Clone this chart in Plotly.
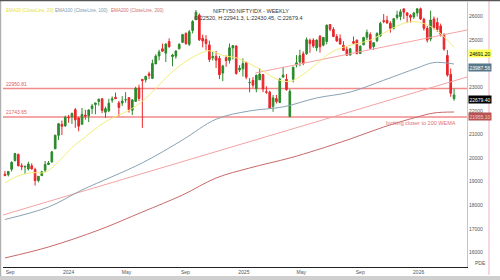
import plotly.graph_objects as go
import pandas as pd

# ---------------- data (weekly candles) ----------------
week_start = "2023-08-21"
opens = [19320, 19298, 19525, 19890, 20156, 19678, 19622, 19539, 19674, 19521, 19053, 19257, 19487, 19731, 19844, 20393, 20965, 21434, 21365,
         21727, 21747, 22053, 21700, 21433, 21825, 21800, 22102, 22269, 22403, 22517, 21946, 22006, 22456, 22579, 22339, 22336, 22475, 22562, 22027, 22404, 22970,
         23338, 23319, 23571, 23382, 23992, 24329, 24635, 24445, 24943, 24302, 24320, 24636, 24906, 25284, 24823, 25406, 25872, 26061, 25084, 25024, 24798, 24251,
         24315, 24225, 23605, 24254, 24140, 24671, 24753, 23738, 23783,
         24045, 23195, 23290, 22940, 23319, 23543, 22810, 22796, 22194, 22522, 22354, 23433, 23342, 21758, 23341, 23949, 24070, 24420, 24420, 24992, 25001,
         24669, 25160, 24787, 24939, 25661, 25450, 25149, 25061, 24782, 24596, 24371, 24938, 25000, 24432, 24802, 25118, 25239, 24729, 24979, 25177, 25824,
         25843, 25715, 25503, 25960, 26000, 26326, 26159, 26050, 25980, 26150,
         26330, 25880, 25500, 25050, 25900, 25750, 25600, 25200, 24350, 23550, 22520]
highs = [19458, 19457, 19868, 20222, 20195, 19782, 19661, 19849, 19781, 19593, 19233, 19463, 19875, 19875, 20291, 20990, 21492, 21593, 21801,
         21834, 21928, 22124, 21750, 22126, 22053, 22069, 22297, 22353, 22526, 22527, 22180, 22516, 22619, 22776, 22427, 22626, 22794, 22588, 22502, 23027, 23111,
         23338, 23490, 23667, 24174, 24401, 24592, 24854, 24861, 25078, 24419, 24563, 24867, 25268, 25333, 25433, 25849, 26277, 26134, 25234, 25212, 24978, 24498,
         24537, 24336, 23956, 24354, 24857, 24792, 24781, 23938, 24226,
         24089, 23391, 23426, 23546, 23807, 23568, 23050, 22857, 22677, 22677, 23402, 23869, 23565, 22924, 23872, 24365, 24590, 24526, 25116, 25071, 25079,
         25030, 25222, 25137, 25654, 25669, 25548, 25256, 25241, 24957, 24734, 24674, 25154, 25022, 24780, 25139, 25449, 25331, 24904, 25330, 25781, 26104,
         26032, 25800, 25940, 26246, 26310, 26326, 26159, 26100, 26200, 26340,
         26380, 25950, 25600, 26250, 26000, 25950, 25700, 25300, 24580, 23800, 22941.3]
lows = [19229, 19224, 19432, 19866, 19657, 19492, 19333, 19480, 19518, 18837, 18973, 19257, 19414, 19705, 19801, 20393, 20769, 20976, 21330,
        21500, 21448, 21285, 21137, 21430, 21629, 21530, 21875, 21860, 22224, 21905, 21710, 21947, 22346, 22503, 21777, 22213, 22348, 21932, 21822, 22404, 22418,
        21282, 23206, 23350, 23350, 23992, 24141, 24509, 24074, 24686, 23893, 24212, 24607, 24874, 24801, 24753, 25285, 25847, 24966, 24694, 24567, 24073, 24140,
        23816, 23350, 23263, 23873, 24008, 24180, 23537, 23647, 23460,
        23344, 22786, 22981, 22787, 23316, 22798, 22725, 22104, 21964, 22315, 22353, 23412, 22857, 21743.65, 23207, 23847, 23896, 23936, 24378, 24463, 24674,
        24533, 24474, 24738, 24825, 25379, 25130, 24919, 24806, 24536, 24337, 24346, 24852, 24404, 24432, 24781, 25000, 24629, 24587, 24912, 25152, 25718,
        25711, 25318, 25449, 25876, 25842, 25891, 25728, 25750, 25900, 26000,
        25850, 25400, 24900, 24950, 25450, 25350, 25150, 24550, 23450, 22600, 22430.45]
closes = [19266, 19435, 19820, 20192, 19674, 19638, 19654, 19751, 19542, 19047, 19231, 19425, 19732, 19795, 20268, 20970, 21457, 21349, 21731,
          21711, 21895, 21622, 21353, 21854, 21783, 22041, 22213, 22339, 22494, 22023, 22097, 22327, 22514, 22519, 22147, 22420, 22476, 22055, 22467, 22957, 22531,
          23290, 23466, 23501, 24011, 24324, 24502, 24531, 24835, 24718, 24368, 24541, 24823, 25236, 24852, 25357, 25791, 26179, 25015, 24964, 24854, 24181, 24305,
          24148, 23533, 23907, 24131, 24678, 24768, 23588, 23813, 24005,
          23432, 23203, 23092, 23508, 23560, 22929, 22796, 22125, 22553, 22397, 23350, 23519, 22904, 22829, 23852, 24039, 24347, 24008, 25020, 24853, 24751,
          25003, 24719, 25112, 25637, 25461, 25150, 24968, 24837, 24565, 24363, 24631, 24870, 24427, 24741, 25114, 25327, 24655, 24894, 25285, 25710, 25795,
          25722, 25492, 25910, 26068, 26203, 26186, 26047, 25966, 26150, 26328,
          25900, 25500, 25000, 25850, 25520, 25450, 25250, 24620, 23520, 22750, 22679.4]

ema20_dates = ["2023-08-21", "2023-09-18", "2023-10-16", "2023-11-13", "2023-12-11", "2024-01-08", "2024-02-05", "2024-03-04",
               "2024-04-01", "2024-04-29", "2024-05-27", "2024-06-24", "2024-07-22", "2024-08-19", "2024-09-23", "2024-10-21",
               "2024-11-18", "2024-12-16", "2025-01-13", "2025-02-10", "2025-03-10", "2025-04-07", "2025-05-05", "2025-06-02",
               "2025-06-30", "2025-07-28", "2025-08-25", "2025-09-22", "2025-10-20", "2025-11-17", "2025-12-15", "2026-01-12",
               "2026-02-09", "2026-03-02", "2026-03-16"]
ema20 = [18950, 19250, 19380, 19400, 19850, 20450, 20900, 21350, 21700, 21950, 22300, 22800, 23400, 23900, 24350, 24550,
         24350, 24250, 24000, 23700, 23350, 23250, 23550, 24000, 24450, 24700, 24850, 25000, 25300, 25600, 25780, 25700,
         25400, 25000, 24691.2]

ema100_dates = ["2023-08-21", "2023-11-20", "2024-01-29", "2024-06-03", "2024-08-26", "2024-11-04", "2025-01-13", "2025-03-24",
                "2025-06-02", "2025-08-11", "2025-10-20", "2025-12-29", "2026-02-02", "2026-03-16"]
ema100 = [17400, 17930, 18650, 19800, 20770, 21650, 22000, 22170, 22550, 22800, 23300, 23820, 24050, 23987.56]

ema200_dates = ["2023-08-21", "2023-11-20", "2024-03-04", "2024-06-03", "2024-08-26", "2024-11-04", "2025-01-13", "2025-04-07",
                "2025-06-02", "2025-08-11", "2025-10-20", "2025-12-29", "2026-02-02", "2026-03-16"]
ema200 = [15770, 16235, 16955, 17718, 18438, 19158, 19582, 20006, 20345, 20811, 21319, 21743, 21913, 21955.10]

trend_low_dates = ["2023-08-17", "2026-04-12"]
trend_low_vals = [17591, 23438]
trend_up_dates = ["2025-01-25", "2026-04-12"]
trend_up_vals = [23607, 25429]

levels = [22950.81, 21743.65]

tick_dates = ["2023-09-01", "2024-01-01", "2024-05-01", "2024-09-01", "2025-01-01", "2025-05-01", "2025-09-01", "2026-01-01"]
tick_text = ["Sep", "2024", "May", "Sep", "2025", "May", "Sep", "2026"]
y_ticks = [16000, 17000, 18000, 19000, 20000, 21000, 22000, 23000, 25000, 26000]
y_tick_text = ["16000", "17000", "18000", "19000", "20000", "21000", "22000", "23000", "25000", "26000"]

title1 = "NIFTY50:NIFTYIDX - WEEKLY"
title2 = "O:22520, H:22941.3, L:22430.45, C:22679.4"
note = "Inching closer to 200 WEMA"

# ---------------- styles ----------------
GREEN = "#2b8a2b"
RED = "#e8262a"
YEL = "#f2ee7a"
BLUE = "#8aa3b3"
MAROON = "#c86a6a"
PINK = "#f3a3a3"
LEVEL = "#f28a8a"
FONT = "Liberation Sans"

dates = pd.date_range(week_start, periods=len(closes), freq="7D")

fig = go.Figure()
fig.add_trace(go.Scatter(x=trend_low_dates, y=trend_low_vals, mode="lines",
                         line=dict(color=PINK, width=1), hoverinfo="skip", showlegend=False))
fig.add_trace(go.Scatter(x=trend_up_dates, y=trend_up_vals, mode="lines",
                         line=dict(color=PINK, width=1), hoverinfo="skip", showlegend=False))
fig.add_trace(go.Scatter(x=ema200_dates, y=ema200, mode="lines", line=dict(color=MAROON, width=1, shape="spline"),
                         showlegend=False))
fig.add_trace(go.Scatter(x=ema100_dates, y=ema100, mode="lines", line=dict(color=BLUE, width=1, shape="spline"),
                         showlegend=False))
fig.add_trace(go.Scatter(x=ema20_dates, y=ema20, mode="lines", line=dict(color=YEL, width=1, shape="spline"),
                         showlegend=False))
fig.add_trace(go.Candlestick(x=dates, open=opens, high=highs, low=lows, close=closes,
                             increasing=dict(line=dict(color=GREEN, width=1), fillcolor=GREEN),
                             decreasing=dict(line=dict(color=RED, width=1), fillcolor=RED),
                             whiskerwidth=0, showlegend=False))

shapes = []
for lv in levels:
    shapes.append(dict(type="line", xref="paper", x0=0, x1=1, yref="y", y0=lv, y1=lv,
                       line=dict(color=LEVEL, width=1.5), layer="below"))
# frame pieces
shapes += [
    dict(type="line", xref="paper", yref="paper", x0=1.0474, x1=1.0474, y0=-0.03, y1=1.01, line=dict(color="#f0b0c0", width=1)),
    dict(type="rect", xref="paper", yref="paper", x0=-0.01, x1=1.08, y0=-0.05, y1=-0.034, fillcolor="#cfcfcf", line=dict(width=0)),
    dict(type="line", xref="paper", yref="paper", x0=-0.006, x1=-0.006, y0=-0.035, y1=1.01, line=dict(color="#b0b0b0", width=2)),
    dict(type="line", xref="paper", yref="paper", x0=-0.01, x1=1.08, y0=1.006, y1=1.006, line=dict(color="#555555", width=1.5)),
]

ann = []
ann.append(dict(text=title1, xref="paper", yref="paper", x=0.535, y=0.985, showarrow=False,
                font=dict(family=FONT, size=5.5, color="#333333")))
ann.append(dict(text=title2, xref="paper", yref="paper", x=0.53, y=0.958, showarrow=False,
                font=dict(family=FONT, size=5.5, color="#333333")))
ann.append(dict(text="EMA20 (CloseLine, 20)", xref="paper", yref="paper", x=0.002, y=0.985, xanchor="left",
                showarrow=False, font=dict(family=FONT, size=4.6, color="#e6e23a")))
ann.append(dict(text="EMA100 (CloseLine, 100)", xref="paper", yref="paper", x=0.108, y=0.985, xanchor="left",
                showarrow=False, font=dict(family=FONT, size=4.6, color="#7f9aab")))
ann.append(dict(text="EMA200 (CloseLine, 200)", xref="paper", yref="paper", x=0.228, y=0.985, xanchor="left",
                showarrow=False, font=dict(family=FONT, size=4.6, color="#d07070")))
for lv in levels:
    ann.append(dict(text=f"{lv:.2f}", xref="paper", x=0.002, y=lv, yref="y", xanchor="left", yanchor="bottom",
                    showarrow=False, font=dict(family=FONT, size=5, color="#e06060")))
ann.append(dict(text=note, x="2026-01-05", y=21470, showarrow=False,
                font=dict(family=FONT, size=5.5, color="#e07070")))
# right-axis value boxes
boxes = [(ema20[-1], "#ffff55", "#000000", -6),
         (ema100[-1], "#56778a", "#ffffff", -3),
         (closes[-1], "#000000", "#ffffff", -5),
         (ema200[-1], "#b85252", "#f0d0d0", -4)]
for val, bg, fg, ys in boxes:
    ann.append(dict(text=f"{val:.2f}", xref="paper", x=1.002, y=val, yref="y", xanchor="left", showarrow=False,
                    bgcolor=bg, font=dict(family=FONT, size=5, color=fg), borderpad=0.5, yshift=ys))
ann.append(dict(text="PDE", xref="paper", yref="paper", x=1.03, y=-0.005, xanchor="center", showarrow=False,
                font=dict(family=FONT, size=5, color="#555555")))

fig.update_layout(
    width=500, height=280,
    margin=dict(l=3, r=33, t=2, b=13),
    paper_bgcolor="white", plot_bgcolor="white",
    shapes=shapes, annotations=ann,
    xaxis=dict(type="date", range=["2023-08-17", "2026-04-12"], rangeslider=dict(visible=False),
               tickvals=tick_dates, ticktext=tick_text, showgrid=False, zeroline=False,
               showline=True, linecolor="#222222", linewidth=1, ticks="",
               tickfont=dict(family=FONT, size=5, color="#555555")),
    yaxis=dict(side="right", range=[15387, 26616], tickvals=y_ticks, ticktext=y_tick_text,
               showgrid=False, zeroline=False, showline=True, linecolor="#f0b0c0", linewidth=1, ticks="",
               tickfont=dict(family=FONT, size=5, color="#555555")),
    showlegend=False,
)

fig.write_html("out.html")
